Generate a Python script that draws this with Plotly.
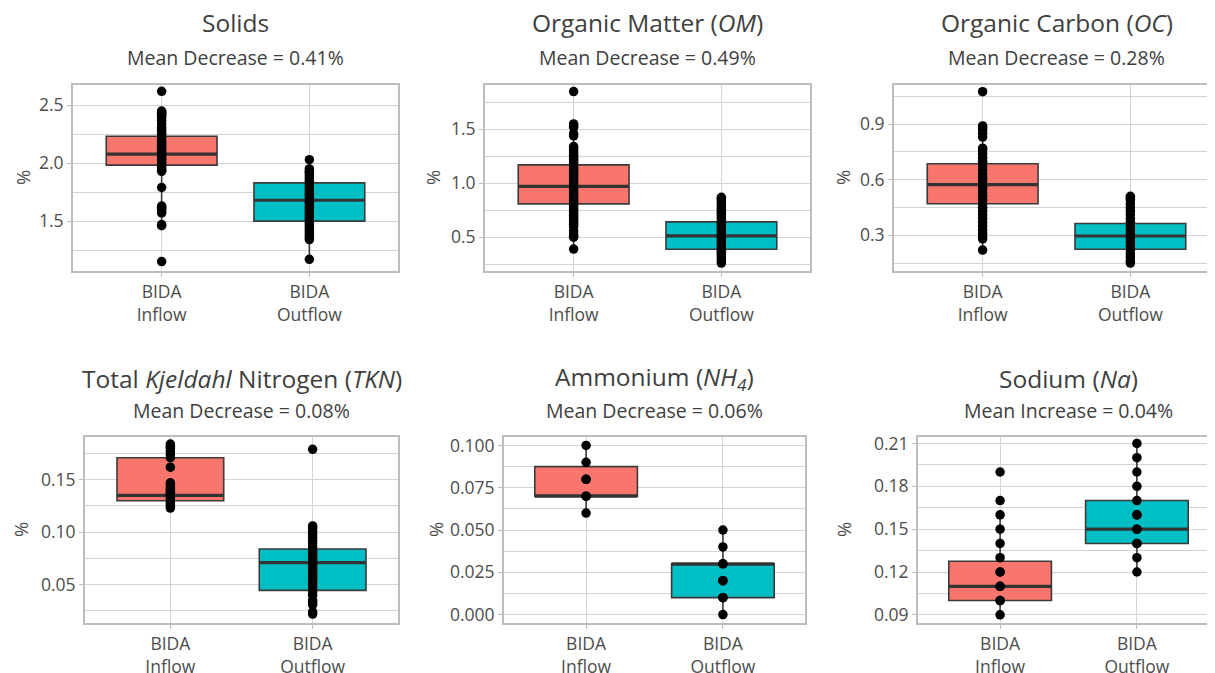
import plotly.graph_objects as go

# ---------------- data ----------------
categories = ["BIDA<br>Inflow", "BIDA<br>Outflow"]

titles = [
    "Solids",
    "Organic Matter (<i>OM</i>)",
    "Organic Carbon (<i>OC</i>)",
    "Total <i>Kjeldahl</i> Nitrogen (<i>TKN</i>)",
    "Ammonium (<i>NH<sub>4</sub></i>)",
    "Sodium (<i>Na</i>)",
]
subtitles = [
    "Mean Decrease = 0.41%",
    "Mean Decrease = 0.49%",
    "Mean Decrease = 0.28%",
    "Mean Decrease = 0.08%",
    "Mean Decrease = 0.06%",
    "Mean Increase = 0.04%",
]

solids_in = [2.62, 2.45, 2.44, 2.43, 2.42, 2.41, 2.39, 2.37, 2.34, 2.31, 2.29, 2.27, 2.25,
             2.23, 2.21, 2.19, 2.17, 2.15, 2.14, 2.12, 2.10, 2.09, 2.07, 2.06, 2.04, 2.03,
             2.01, 2.00, 1.98, 1.97, 1.95, 1.94, 1.93, 1.79, 1.63, 1.62, 1.61, 1.60, 1.58,
             1.57, 1.47, 1.46, 1.15]
solids_out = [2.03, 1.95, 1.93, 1.92, 1.90, 1.88, 1.86, 1.84, 1.82, 1.80, 1.78, 1.76, 1.74,
              1.72, 1.70, 1.68, 1.66, 1.64, 1.62, 1.60, 1.58, 1.56, 1.54, 1.52, 1.50, 1.48,
              1.46, 1.44, 1.42, 1.40, 1.38, 1.36, 1.34, 1.17]

om_in = [1.85, 1.55, 1.54, 1.52, 1.46, 1.44, 1.34, 1.32, 1.30, 1.28, 1.26, 1.24, 1.22, 1.20,
         1.18, 1.16, 1.14, 1.12, 1.10, 1.08, 1.06, 1.04, 1.02, 1.00, 0.98, 0.96, 0.94, 0.92,
         0.90, 0.88, 0.86, 0.84, 0.82, 0.80, 0.78, 0.76, 0.74, 0.72, 0.70, 0.68, 0.66, 0.64,
         0.62, 0.60, 0.56, 0.53, 0.51, 0.50, 0.39]
om_out = [0.87, 0.86, 0.84, 0.82, 0.80, 0.78, 0.76, 0.74, 0.72, 0.70, 0.68, 0.66, 0.64, 0.62,
          0.60, 0.58, 0.56, 0.54, 0.52, 0.50, 0.48, 0.46, 0.44, 0.42, 0.40, 0.38, 0.36, 0.34,
          0.32, 0.30, 0.28, 0.26]

oc_in = [1.075, 0.89, 0.88, 0.87, 0.85, 0.83, 0.77, 0.76, 0.74, 0.72, 0.70, 0.69, 0.67, 0.65,
         0.63, 0.61, 0.60, 0.58, 0.56, 0.55, 0.53, 0.51, 0.49, 0.47, 0.45, 0.43, 0.41, 0.39,
         0.37, 0.35, 0.33, 0.31, 0.29, 0.28, 0.22]
oc_out = [0.51, 0.50, 0.49, 0.47, 0.45, 0.43, 0.41, 0.39, 0.37, 0.35, 0.33, 0.31, 0.30, 0.28,
          0.26, 0.24, 0.22, 0.20, 0.18, 0.16, 0.15]

tkn_in = [0.184, 0.182, 0.180, 0.177, 0.174, 0.171, 0.162, 0.147, 0.145, 0.143, 0.141, 0.139,
          0.137, 0.135, 0.133, 0.131, 0.129, 0.127, 0.125, 0.123]
tkn_out = [0.179, 0.106, 0.104, 0.101, 0.098, 0.095, 0.092, 0.089, 0.086, 0.084, 0.082, 0.080,
           0.078, 0.076, 0.074, 0.072, 0.070, 0.068, 0.066, 0.064, 0.062, 0.060, 0.058, 0.056,
           0.054, 0.051, 0.048, 0.046, 0.043, 0.040, 0.035, 0.033, 0.031, 0.024, 0.022]

nh4_in = [0.06, 0.07, 0.07, 0.08, 0.08, 0.09, 0.10]
nh4_out = [0.00, 0.01, 0.01, 0.02, 0.02, 0.03, 0.03, 0.04, 0.05]

na_in = [0.09, 0.10, 0.10, 0.11, 0.11, 0.12, 0.12, 0.13, 0.14, 0.15, 0.16, 0.17, 0.19]
na_out = [0.12, 0.13, 0.14, 0.14, 0.15, 0.15, 0.16, 0.16, 0.17, 0.18, 0.19, 0.20, 0.21]

points = [
    (solids_in, solids_out),
    (om_in, om_out),
    (oc_in, oc_out),
    (tkn_in, tkn_out),
    (nh4_in, nh4_out),
    (na_in, na_out),
]

# box statistics [inflow, outflow]
q1_vals = [[1.983, 1.50], [0.809, 0.389], [0.470, 0.224], [0.130, 0.0446], [0.07, 0.01], [0.10, 0.14]]
median_vals = [[2.078, 1.68], [0.972, 0.512], [0.573, 0.296], [0.135, 0.071], [0.07, 0.03], [0.11, 0.15]]
q3_vals = [[2.233, 1.83], [1.171, 0.642], [0.686, 0.363], [0.171, 0.084], [0.0875, 0.03], [0.1275, 0.17]]
lower_vals = [[1.46, 1.17], [0.39, 0.26], [0.22, 0.15], [0.122, 0.022], [0.06, 0.00], [0.09, 0.12]]
upper_vals = [[2.45, 2.03], [1.55, 0.87], [0.89, 0.51], [0.184, 0.106], [0.10, 0.05], [0.16, 0.21]]

# ---------------- layout helpers ----------------
OFF = 8                      # page body margin of the html page
W, H = 1215 - OFF, 673 - OFF
fills = ["#F8766D", "#00BFC4"]
BOX_W = 0.75

# panel geometry in page pixels: (left, right, top, bottom)
panel_px = [
    (73, 398, 85, 271),
    (485, 810, 85, 271),
    (894, 1219, 85, 271),
    (85, 398, 437, 623),
    (504, 805, 437, 623),
    (918, 1219, 437, 623),
]
y_ranges = [[1.069, 2.675], [0.187, 1.911], [0.107, 1.111],
            [0.0135, 0.1907], [-0.005, 0.105], [0.0843, 0.2145]]
y_dticks = [0.5, 0.5, 0.3, 0.05, 0.025, 0.03]
y_formats = [".1f", ".1f", ".1f", ".2f", ".3f", ".2f"]
ylab_x = [22, 432, 842, 20, 435, 843]
title_y = [23, 23, 23, 378, 378, 378]
sub_y = [57, 57, 57, 410, 410, 410]

GRID = "#d4d4d4"
BORDER = "#bdbdbd"
TXT = "#4d4d4d"
TTL = "#404040"
FONT = "Open Sans"


def px_x(v):
    return (v - OFF) / W


def px_y(v):
    return 1 - (v - OFF) / H


fig = go.Figure()
layout = {}
annotations = []

for i in range(6):
    n = i + 1
    xa = "x" if n == 1 else f"x{n}"
    ya = "y" if n == 1 else f"y{n}"
    L, R, T, B = panel_px[i]
    Rc = min(R, W + OFF)
    full = R - L
    xr_right = -0.6 + (Rc - L) * 2.2 / full

    for j in range(2):
        fig.add_trace(go.Box(
            x=[j], q1=[q1_vals[i][j]], median=[median_vals[i][j]], q3=[q3_vals[i][j]],
            lowerfence=[lower_vals[i][j]], upperfence=[upper_vals[i][j]],
            fillcolor=fills[j], line=dict(color="#3a3a3a", width=1.6),
            width=BOX_W, whiskerwidth=0, boxpoints=False,
            xaxis=xa, yaxis=ya, showlegend=False, hoverinfo="skip"))
        fig.add_trace(go.Scatter(
            x=[j - BOX_W / 2, j + BOX_W / 2], y=[median_vals[i][j]] * 2,
            mode="lines", line=dict(color="#333333", width=3.2),
            xaxis=xa, yaxis=ya, showlegend=False, hoverinfo="skip"))
        vals = points[i][j]
        fig.add_trace(go.Scatter(
            x=[j] * len(vals), y=vals, mode="markers",
            marker=dict(color="black", size=9.5, line=dict(width=0)),
            xaxis=xa, yaxis=ya, showlegend=False, hoverinfo="skip"))

    xkey = "xaxis" if n == 1 else f"xaxis{n}"
    ykey = "yaxis" if n == 1 else f"yaxis{n}"
    layout[xkey] = dict(
        domain=[max(0, px_x(L)), min(1, px_x(Rc))], anchor=ya, range=[-0.6, xr_right],
        tickmode="array", tickvals=[0, 1], ticktext=categories, automargin=False,
        showgrid=True, gridcolor=GRID, gridwidth=1, zeroline=False,
        showline=True, linecolor=BORDER, linewidth=2, mirror=True,
        ticks="outside", ticklen=4, tickcolor=BORDER, tickwidth=1,
        tickfont=dict(family=FONT, size=17.5, color=TXT), fixedrange=True)
    layout[ykey] = dict(
        domain=[px_y(B), px_y(T)], anchor=xa, range=y_ranges[i], automargin=False,
        tick0=0, dtick=y_dticks[i], tickformat=y_formats[i],
        showgrid=True, gridcolor=GRID, gridwidth=1, zeroline=False,
        minor=dict(tick0=0, dtick=y_dticks[i] / 2, showgrid=True, gridcolor=GRID,
                   gridwidth=1, ticks=""),
        showline=True, linecolor=BORDER, linewidth=2, mirror=(R <= W + OFF),
        ticks="outside", ticklen=4, tickcolor=BORDER, tickwidth=1,
        tickfont=dict(family=FONT, size=17.5, color=TXT), fixedrange=True)

    cx = px_x((L + R) / 2)
    annotations.append(dict(text=titles[i], x=cx, y=px_y(title_y[i]), xref="paper", yref="paper",
                            xanchor="center", yanchor="middle", showarrow=False,
                            font=dict(family=FONT, size=24.5, color=TTL)))
    annotations.append(dict(text=subtitles[i], x=cx, y=px_y(sub_y[i]), xref="paper", yref="paper",
                            xanchor="center", yanchor="middle", showarrow=False,
                            font=dict(family=FONT, size=19.5, color=TTL)))
    annotations.append(dict(text="%", x=px_x(ylab_x[i]), y=px_y((T + B) / 2), xref="paper",
                            yref="paper", xanchor="center", yanchor="middle", showarrow=False,
                            textangle=-90, font=dict(family=FONT, size=18.5, color=TXT)))

fig.update_layout(
    width=W, height=H, margin=dict(l=0, r=0, t=0, b=0, pad=0, autoexpand=False),
    paper_bgcolor="white", plot_bgcolor="white",
    font=dict(family=FONT, color=TXT), annotations=annotations, boxmode="overlay",
    **layout)

fig.write_html("out.html")
